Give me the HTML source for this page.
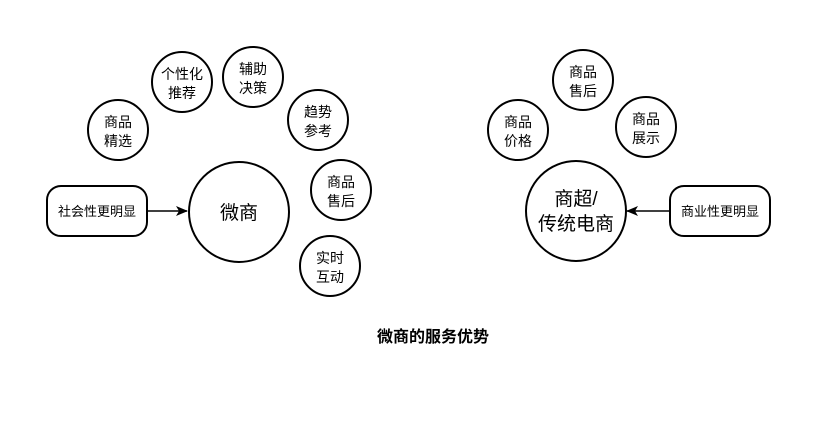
<!DOCTYPE html>
<html><head><meta charset="utf-8"><style>
html,body{margin:0;padding:0;background:#fff;}
svg text{font-family:"Liberation Sans","Noto Sans CJK SC",sans-serif;fill:#000;}
</style></head><body>
<svg width="832" height="427" viewBox="0 0 832 427" xmlns="http://www.w3.org/2000/svg">
<defs><marker id="a" markerWidth="12" markerHeight="12" refX="11" refY="6" orient="auto" markerUnits="userSpaceOnUse"><path d="M0,1 L12,6 L0,11 L3,6 z" fill="#000"/></marker></defs>
<g fill="#fff" stroke="#000" stroke-width="2">
<circle cx="239" cy="212" r="50"/>
<circle cx="118" cy="130" r="30"/>
<circle cx="182" cy="82" r="30"/>
<circle cx="253" cy="77" r="30"/>
<circle cx="318" cy="120" r="30"/>
<circle cx="341" cy="190" r="30"/>
<circle cx="330" cy="266" r="30"/>
<rect x="47" y="186" width="100" height="50" rx="14"/>
<circle cx="576" cy="211" r="50"/>
<circle cx="518" cy="130" r="30"/>
<circle cx="583" cy="80" r="30"/>
<circle cx="646" cy="127" r="30"/>
<rect x="670" y="186" width="100" height="50" rx="14"/>
</g>
<line x1="148" y1="211" x2="187" y2="211" stroke="#000" stroke-width="1.5" marker-end="url(#a)"/>
<line x1="669" y1="211" x2="627" y2="211" stroke="#000" stroke-width="1.5" marker-end="url(#a)"/>
<g font-size="14" text-anchor="middle">
<text x="118" y="127">商品</text><text x="118" y="146">精选</text>
<text x="182" y="79">个性化</text><text x="182" y="98">推荐</text>
<text x="253" y="74">辅助</text><text x="253" y="93">决策</text>
<text x="318" y="117">趋势</text><text x="318" y="136">参考</text>
<text x="341" y="187">商品</text><text x="341" y="206">售后</text>
<text x="330" y="263">实时</text><text x="330" y="282">互动</text>
<text x="518" y="127">商品</text><text x="518" y="146">价格</text>
<text x="583" y="77">商品</text><text x="583" y="96">售后</text>
<text x="646" y="124">商品</text><text x="646" y="143">展示</text>
<text x="97" y="216" font-size="13">社会性更明显</text>
<text x="720" y="216" font-size="13">商业性更明显</text>
<text x="239" y="219" font-size="19">微商</text>
<text x="576" y="205" font-size="19">商超/</text>
<text x="576" y="230" font-size="19">传统电商</text>
<text x="433" y="342" font-size="16" font-weight="bold">微商的服务优势</text>
</g>
</svg>
</body></html>
